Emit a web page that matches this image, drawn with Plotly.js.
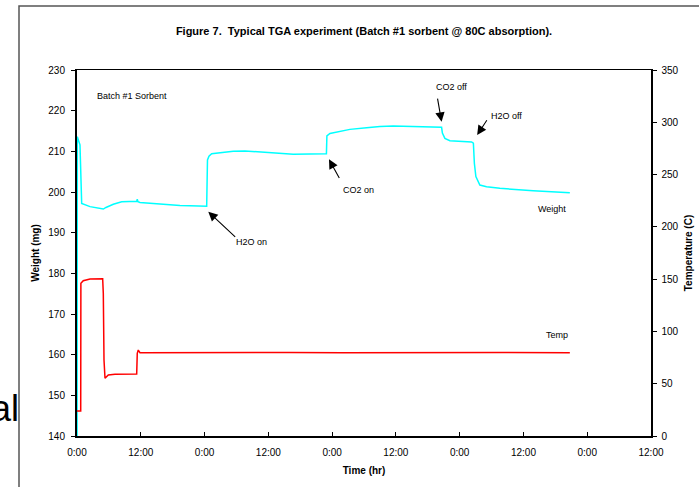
<!DOCTYPE html>
<html>
<head>
<meta charset="utf-8">
<script src="https://cdn.plot.ly/plotly-3.0.1.min.js"></script>
<style>html,body{margin:0;padding:0;background:#fff;}#chart{width:699px;height:487px;}</style>
</head>
<body>
<div id="chart"></div>
<script>
// Time in hours since start
const weightTime = [0, 0.06, 0.56, 0.75, 0.88, 2.45, 4.95, 5.45, 6.83, 8.41, 11.23, 11.34, 11.47, 11.85, 15.61, 19.37, 21.25, 24.40, 24.55, 24.83, 25.34, 26.90, 29.40, 31.60, 34.42, 40.68, 46.93, 47.02, 47.59, 51.35, 54.49, 56.99, 59.49, 67.02, 68.60, 68.75, 69.22, 70.16, 72.04, 74.24, 74.58, 74.77, 75.05, 75.80, 77.06, 78.30, 79.56, 85.83, 92.73];
const weightMg = [100, 213.6, 211.6, 203.0, 197.2, 196.4, 195.8, 196.2, 197.0, 197.6, 197.7, 198.2, 197.6, 197.4, 197.0, 196.7, 196.6, 196.5, 207.9, 208.8, 209.4, 209.7, 210.0, 210.1, 209.8, 209.3, 209.4, 213.8, 214.4, 215.4, 215.8, 216.1, 216.2, 216.1, 215.9, 214.5, 213.2, 212.6, 212.4, 212.3, 212.0, 207.0, 203.8, 201.7, 201.3, 201.1, 200.9, 200.3, 199.8];

const tempTime = [0, 0.70, 0.73, 1.18, 2.45, 4.83, 4.95, 5.08, 5.27, 5.89, 7.15, 9.35, 11.23, 11.34, 11.53, 11.85, 20.0, 30.0, 40.0, 50.0, 60.0, 70.0, 80.0, 92.73];
const tempC = [24, 24, 146, 148.5, 150.1, 150.4, 136, 72.7, 55.2, 58.3, 59.0, 59.3, 59.3, 79.1, 82.2, 79.7, 79.9, 79.7, 79.8, 79.7, 79.9, 79.7, 79.8, 79.7];

const xTickVals = [0, 12, 24, 36, 48, 60, 72, 84, 96, 108];
const xTickText = ["0:00", "12:00", "0:00", "12:00", "0:00", "12:00", "0:00", "12:00", "0:00", "12:00"];
const weightTicks = [140, 150, 160, 170, 180, 190, 200, 210, 220, 230];
const tempTicks = [0, 50, 100, 150, 200, 250, 300, 350];

const FONT = "Liberation Sans, Arial, sans-serif";

const traces = [
  {x: weightTime, y: weightMg, type: "scatter", mode: "lines", name: "Weight",
   line: {color: "#00FFFF", width: 1.5}},
  {x: tempTime, y: tempC, type: "scatter", mode: "lines", name: "Temp", yaxis: "y2",
   line: {color: "#FF0000", width: 1.5}}
];

function txt(text, x, y, anchor) {
  return {text: text, x: x, y: y, xref: "x", yref: "y", showarrow: false,
          xanchor: anchor || "center", yanchor: "middle",
          font: {family: FONT, size: 9, color: "#000"}};
}
function arrow(x, y, ax, ay) {
  return {text: " ", x: x, y: y, xref: "x", yref: "y", ax: ax, ay: ay,
          showarrow: true, arrowhead: 2, arrowsize: 1.7, arrowwidth: 1.1,
          arrowcolor: "#000", standoff: 0, startstandoff: 0,
          font: {size: 1}};
}

const layout = {
  width: 699, height: 487,
  margin: {l: 77, r: 48, t: 70, b: 51, autoexpand: false},
  paper_bgcolor: "#fff", plot_bgcolor: "#fff",
  showlegend: false,
  font: {family: FONT, size: 10, color: "#000"},
  title: {text: "<b>Figure 7.  Typical TGA experiment (Batch #1 sorbent @ 80C absorption).</b>",
          x: 0.5, xref: "paper", y: 1 - 31 / 487, yanchor: "middle",
          font: {family: FONT, size: 11, color: "#000"}},
  xaxis: {range: [0, 108], tickvals: xTickVals, ticktext: xTickText,
          showgrid: false, zeroline: false, showline: true, linecolor: "#000", linewidth: 1.5,
          mirror: true, ticks: "inside", ticklen: 4, tickcolor: "#000",
          ticklabelstandoff: 6,
          tickfont: {family: FONT, size: 10, color: "#000"},
          title: {text: "<b>Time (hr)</b>", standoff: 10, font: {family: FONT, size: 10, color: "#000"}}},
  yaxis: {range: [140, 230], tickvals: weightTicks,
          showgrid: false, zeroline: false, showline: true, linecolor: "#000", linewidth: 2,
          ticks: "outside", ticklen: 4, tickcolor: "#000",
          ticklabelstandoff: 4,
          tickfont: {family: FONT, size: 10, color: "#000"},
          title: {text: "<b>Weight (mg)</b>", standoff: 7, font: {family: FONT, size: 10, color: "#000"}}},
  yaxis2: {range: [0, 350], tickvals: tempTicks, overlaying: "y", side: "right",
           showgrid: false, zeroline: false, showline: true, linecolor: "#000", linewidth: 1.5,
           ticks: "outside", ticklen: 4, tickcolor: "#000",
           ticklabelstandoff: 3,
           tickfont: {family: FONT, size: 10, color: "#000"},
           title: {text: "<b>Temperature (C)</b>", standoff: 7, font: {family: FONT, size: 10, color: "#000"}}},
  shapes: [
    {type: "rect", xref: "paper", yref: "paper",
     x0: (19 - 77) / 574, x1: (760 - 77) / 574, y0: (436 - 560) / 366, y1: (436 - 6) / 366,
     line: {color: "#555", width: 1.5}, fillcolor: "rgba(0,0,0,0)", layer: "below"}
  ],
  annotations: [
    txt("Batch #1 Sorbent", 3.39, 223.7, "left"),
    txt("H2O on", 32.86, 187.8),
    txt("CO2 on", 52.91, 200.5),
    txt("CO2 off", 70.48, 225.75),
    txt("H2O off", 80.82, 218.76),
    txt("Weight", 89.34, 195.8),
    txt("Temp", 90.23, 164.8),
    arrow(24.70, 195.15, 28.4, 26.6),
    arrow(47.41, 208.04, 11.4, 20.7),
    arrow(68.60, 217.29, -4.4, -25),
    arrow(75.29, 214.02, 11, -16.7),
    {text: "al", xref: "paper", yref: "paper", x: (21 - 77) / 574, y: (436 - 408) / 366,
     xanchor: "right", yanchor: "middle", showarrow: false,
     font: {family: FONT, size: 36, color: "#000"}}
  ]
};

Plotly.newPlot("chart", traces, layout, {displayModeBar: false, staticPlot: true});
</script>
</body>
</html>
